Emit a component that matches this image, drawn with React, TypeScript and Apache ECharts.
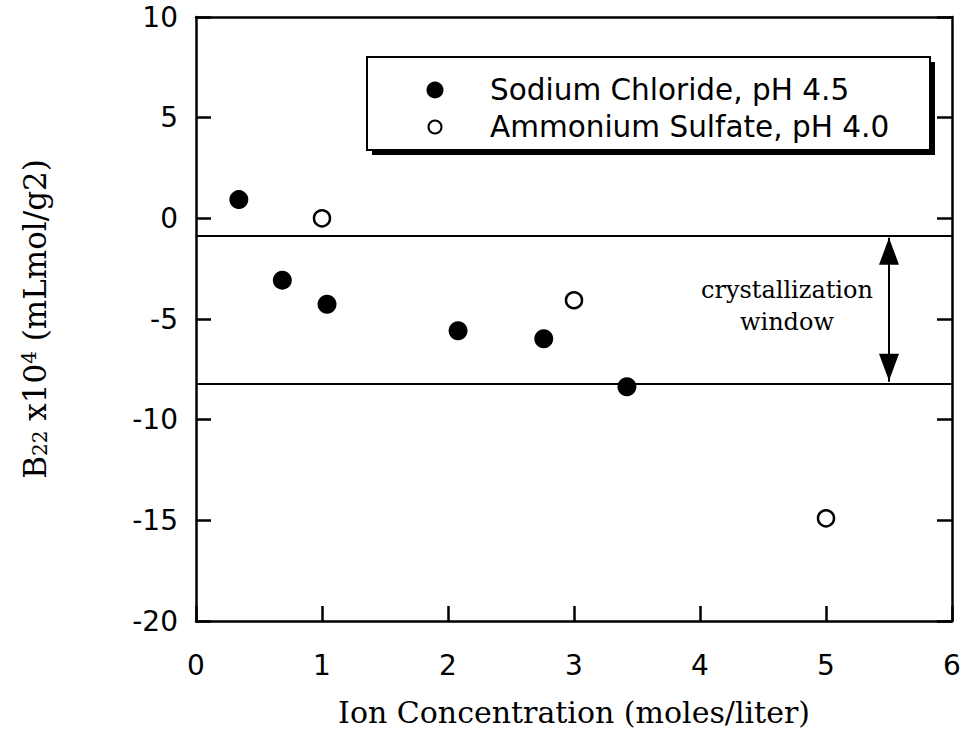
import React, { useEffect, useRef } from "react";
import * as echarts from "echarts";

// Data
const sodiumX = [0.34, 0.685, 1.04, 2.08, 2.76, 3.42];
const sodiumY = [0.93, -3.07, -4.27, -5.58, -5.98, -8.37];
const ammoniumX = [1.0, 3.0, 5.0];
const ammoniumY = [0.0, -4.07, -14.9];
const windowBounds = [-0.87, -8.21];
const arrowX = 5.5;
const windowLabelPos = [4.69, -4.33];
const windowLabel = "crystallization\nwindow";
const seriesNames = ["Sodium Chloride, pH 4.5", "Ammonium Sulfate, pH 4.0"];
const xTitle = "Ion Concentration (moles/liter)";

const SANS = "DejaVu Sans";
const SERIF = "DejaVu Serif";

export default function App() {
  const ref = useRef<HTMLDivElement>(null);

  useEffect(() => {
    const chart = echarts.init(ref.current!, null, { renderer: "svg" });
    const axisLine = { show: true, onZero: false, lineStyle: { color: "#000", width: 2.5 } };
    const tick = { show: true, inside: true, length: 15, lineStyle: { color: "#000", width: 2.5 } };
    const option: any = {
      animation: false,
      backgroundColor: "#fff",
      grid: { left: 196, right: 14, top: 17, bottom: 114 },
      xAxis: [
        {
          type: "value",
          min: 0,
          max: 6,
          interval: 1,
          position: "bottom",
          axisLine,
          axisTick: tick,
          axisLabel: { fontFamily: SANS, fontSize: 28, color: "#000", margin: 30 },
          splitLine: { show: false },
          name: xTitle,
          nameLocation: "middle",
          nameGap: 76,
          nameTextStyle: { fontFamily: SERIF, fontSize: 30, color: "#000" },
        },
        {
          type: "value",
          min: 0,
          max: 6,
          interval: 1,
          position: "top",
          axisLine,
          axisTick: { show: false },
          axisLabel: { show: false },
          splitLine: { show: false },
        },
      ],
      yAxis: [
        {
          type: "value",
          min: -20,
          max: 10,
          interval: 5,
          position: "left",
          axisLine,
          axisTick: tick,
          axisLabel: { fontFamily: SANS, fontSize: 28, color: "#000", margin: 18 },
          splitLine: { show: false },
          name: "{t|B}{sub|22}{t| x10}{sup|4}{t| (mLmol/g2)}",
          nameLocation: "middle",
          nameRotate: 90,
          nameGap: 146,
          nameTextStyle: {
            fontFamily: SERIF,
            fontSize: 31,
            color: "#000",
            rich: {
              t: { fontFamily: SERIF, fontSize: 31, color: "#000", verticalAlign: "middle" },
              sub: { fontFamily: SERIF, fontSize: 20, color: "#000", verticalAlign: "bottom" },
              sup: { fontFamily: SERIF, fontSize: 20, color: "#000", verticalAlign: "top" },
            },
          },
        },
        {
          type: "value",
          min: -20,
          max: 10,
          interval: 5,
          position: "right",
          axisLine,
          axisTick: tick,
          axisLabel: { show: false },
          splitLine: { show: false },
        },
      ],
      series: [
        {
          name: seriesNames[0],
          type: "scatter",
          xAxisIndex: 0,
          yAxisIndex: 0,
          symbol: "circle",
          symbolSize: 19,
          itemStyle: { color: "#000", opacity: 1 },
          data: sodiumX.map((x, i) => [x, sodiumY[i]]),
          markLine: {
            silent: true,
            symbol: ["none", "none"],
            label: { show: false },
            lineStyle: { color: "#000", width: 2.2, type: "solid", opacity: 1 },
            data: windowBounds.map((v) => ({ yAxis: v })),
          },
        },
        {
          name: seriesNames[1],
          type: "scatter",
          xAxisIndex: 0,
          yAxisIndex: 0,
          symbol: "circle",
          symbolSize: 16,
          itemStyle: { color: "#fff", borderColor: "#000", borderWidth: 2.5, opacity: 1 },
          data: ammoniumX.map((x, i) => [x, ammoniumY[i]]),
        },
      ],
    };
    chart.setOption(option);

    const px = (x: number, y: number) => chart.convertToPixel({ seriesIndex: 0 }, [x, y]) as number[];
    const top = px(arrowX, windowBounds[0]);
    const bot = px(arrowX, windowBounds[1]);
    const lab = px(windowLabelPos[0], windowLabelPos[1]);
    const ah = 27;
    const aw = 10;

    chart.setOption({
      graphic: [
        { type: "line", shape: { x1: top[0], y1: top[1] + 2, x2: bot[0], y2: bot[1] - 2 }, style: { stroke: "#000", lineWidth: 2 }, z: 10 },
        {
          type: "polygon",
          shape: { points: [[top[0], top[1] + 2], [top[0] - aw, top[1] + 2 + ah], [top[0] + aw, top[1] + 2 + ah]] },
          style: { fill: "#000" },
          z: 10,
        },
        {
          type: "polygon",
          shape: { points: [[bot[0], bot[1] - 3], [bot[0] - aw, bot[1] - 3 - ah], [bot[0] + aw, bot[1] - 3 - ah]] },
          style: { fill: "#000" },
          z: 10,
        },
        {
          type: "text",
          x: lab[0],
          y: lab[1],
          style: {
            text: windowLabel,
            fill: "#000",
            fontFamily: SERIF,
            fontSize: 24,
            lineHeight: 32,
            align: "center",
            verticalAlign: "middle",
          },
          z: 10,
        },
        // legend box with drop shadow
        { type: "rect", shape: { x: 372, y: 62, width: 563, height: 93 }, style: { fill: "#000" }, z: 20 },
        { type: "rect", shape: { x: 367, y: 57, width: 563, height: 93 }, style: { fill: "#fff", stroke: "#000", lineWidth: 2 }, z: 21 },
        { type: "circle", shape: { cx: 435, cy: 90, r: 8.5 }, style: { fill: "#000" }, z: 22 },
        { type: "circle", shape: { cx: 435, cy: 127, r: 6.5 }, style: { fill: "#fff", stroke: "#000", lineWidth: 2 }, z: 22 },
        {
          type: "text",
          x: 490,
          y: 90,
          style: { text: seriesNames[0], fill: "#000", fontFamily: SANS, fontSize: 29.5, verticalAlign: "middle" },
          z: 22,
        },
        {
          type: "text",
          x: 490,
          y: 127,
          style: { text: seriesNames[1], fill: "#000", fontFamily: SANS, fontSize: 29.5, verticalAlign: "middle" },
          z: 22,
        },
      ],
    });

    return () => chart.dispose();
  }, []);

  return (
    <div
      ref={ref}
      style={{ position: "fixed", left: 0, top: 0, width: 966, height: 735, background: "#fff" }}
    />
  );
}
